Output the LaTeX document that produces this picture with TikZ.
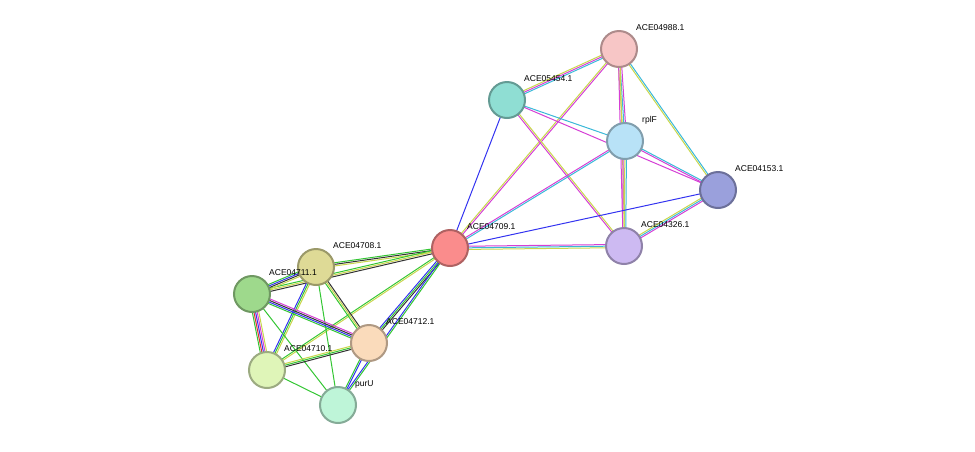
\documentclass[tikz,border=0pt]{standalone}
\usepackage{fontspec}
\setmainfont{Liberation Sans}
\usetikzlibrary{calc}
\definecolor{eg}{HTML}{33C633}
\definecolor{ey}{HTML}{C8D64B}
\definecolor{ec}{HTML}{3AB8D8}
\definecolor{em}{HTML}{D53FD5}
\definecolor{eb}{HTML}{3333F0}
\definecolor{ek}{HTML}{333333}
\definecolor{er}{HTML}{E03030}
\definecolor{nA}{HTML}{F7C6C6}
\definecolor{nB}{HTML}{8FDED3}
\definecolor{nC}{HTML}{B8E2F7}
\definecolor{nD}{HTML}{9AA0DC}
\definecolor{nE}{HTML}{FA8C8C}
\definecolor{nF}{HTML}{CDBAF2}
\definecolor{nG}{HTML}{DEDA96}
\definecolor{nH}{HTML}{9ED98C}
\definecolor{nI}{HTML}{FADBBB}
\definecolor{nJ}{HTML}{DFF5B8}
\definecolor{nK}{HTML}{BEF5D8}
\tikzset{prot/.style={circle,minimum size=36pt,inner sep=0pt,line width=2pt},
 lab/.style={anchor=west,font=\fontsize{8.5}{10}\selectfont,inner sep=0pt},
 eline/.style={line width=1pt}}
\newcommand\edg[3]{%
 \foreach \cl [count=\i] in {#3}{\xdef\nn{\i}}%
 \foreach \cl [count=\i] in {#3}{%
  \pgfmathsetmacro\off{(\i-(\nn+1)/2)*1.6}%
  \draw[eline,draw=\cl] ($(#1)!\off pt!90:(#2)$) -- ($(#2)!\off pt!-90:(#1)$);}}
\newcommand\prt[5]{%
 \node[prot,fill=#4,draw=#4!70!black] (#1) at (#2,#3) {};
 \node[lab] at (#2+17,#3-21) {#5};}
\begin{document}
\begin{tikzpicture}[x=1pt,y=-1pt]
\useasboundingbox (0,0) rectangle (975,451);
\coordinate (a) at (619,49);
\coordinate (b) at (507,100);
\coordinate (c) at (625,141);
\coordinate (d) at (718,190);
\coordinate (e) at (450,248);
\coordinate (f) at (624,246);
\coordinate (g) at (316,267);
\coordinate (h) at (252,294);
\coordinate (i) at (369,343);
\coordinate (j) at (267,370);
\coordinate (k) at (338,405);
\edg{a}{b}{ey,em,ec}
\edg{a}{c}{ey,ec,em}
\edg{a}{d}{ey,ec}
\edg{a}{e}{ey,em}
\edg{a}{f}{em,ey}
\edg{b}{c}{ec}
\edg{b}{d}{em}
\edg{b}{e}{eb}
\edg{b}{f}{em,ey}
\edg{c}{d}{em,ec}
\edg{c}{e}{em,ec}
\edg{c}{f}{em,ey,ec}
\edg{d}{e}{eb}
\edg{d}{f}{ey,ec,em}
\edg{e}{f}{ey,ec,em}
\edg{e}{g}{eg,ek,ey}
\edg{e}{h}{eg,ey,ek}
\edg{e}{i}{eb,eg,ek}
\edg{e}{j}{eg,ey}
\edg{e}{k}{eb,eg}
\edg{g}{h}{eg,eb,ek,ey}
\edg{g}{i}{eg,ey,ek}
\edg{g}{j}{eb,eg,ey}
\edg{g}{k}{eg}
\edg{h}{i}{eg,eb,ek,em}
\edg{h}{j}{eg,er,eb,em,ey}
\edg{h}{k}{eg}
\edg{i}{j}{ey,eg,ek}
\edg{i}{k}{eg,eb}
\edg{j}{k}{eg}
\prt{A}{619}{49}{nA}{ACE04988.1}
\prt{B}{507}{100}{nB}{ACE05454.1}
\prt{C}{625}{141}{nC}{rplF}
\prt{D}{718}{190}{nD}{ACE04153.1}
\prt{E}{450}{248}{nE}{ACE04709.1}
\prt{F}{624}{246}{nF}{ACE04326.1}
\prt{G}{316}{267}{nG}{ACE04708.1}
\prt{H}{252}{294}{nH}{ACE04711.1}
\prt{I}{369}{343}{nI}{ACE04712.1}
\prt{J}{267}{370}{nJ}{ACE04710.1}
\prt{K}{338}{405}{nK}{purU}
\end{tikzpicture}
\end{document}
